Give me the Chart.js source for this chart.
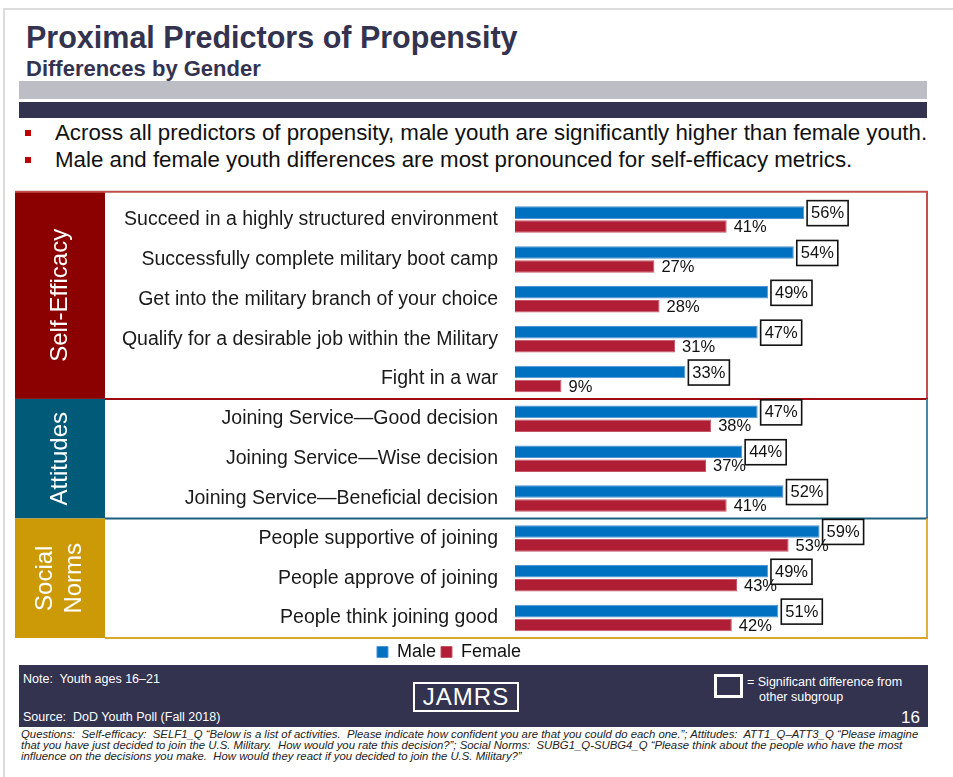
<!DOCTYPE html>
<html>
<head>
<meta charset="utf-8">
<script src="https://cdn.jsdelivr.net/npm/chart.js@4.4.1/dist/chart.umd.min.js"></script>
<style>
  html, body { margin: 0; padding: 0; background: #fff; width: 953px; height: 777px; overflow: hidden;
    font-family: "Liberation Sans", Arial, sans-serif; }
  .abs { position: absolute; white-space: nowrap; line-height: 1; }
  #frame { position: absolute; left: 3px; top: 8px; width: 980px; height: 800px;
    border-top: 2px solid #DCDCDC; border-left: 2px solid #DCDCDC; }
  #title { left: 26px; top: 22px; font-size: 30.5px; font-weight: bold; color: #333350; }
  #subtitle { left: 26px; top: 58px; font-size: 22px; font-weight: bold; color: #333350; }
  #band1 { position: absolute; left: 19px; top: 81px; width: 908px; height: 18px; background: #BDBDC6; }
  #band2 { position: absolute; left: 19px; top: 102px; width: 908px; height: 16px; background: #333350; }
  .bullet { position: absolute; left: 25px; width: 6px; height: 6px; background: #C00000; }
  .btext { left: 55px; font-size: 22.3px; color: #111; }
  #chartWrap { position: absolute; left: -30px; top: 171px; width: 960px; height: 500px; }
  #footer { position: absolute; left: 19px; top: 665px; width: 909px; height: 62px; background: #333350; }
  .ftext { color: #fff; font-size: 12.5px; }
  #jamrs { position: absolute; left: 413px; top: 682px; width: 102px; height: 26px;
    border: 2px solid #fff; color: #fff; font-size: 24px; letter-spacing: 1px;
    display: flex; align-items: center; justify-content: center; line-height: 1; }
  #sigBox { position: absolute; left: 714px; top: 674px; width: 23px; height: 18px; border: 3px solid #fff; }
  .q { left: 21px; font-size: 11.35px; font-style: italic; color: #222; }
</style>
</head>
<body>
<div id="frame"></div>
<div class="abs" id="title">Proximal Predictors of Propensity</div>
<div class="abs" id="subtitle">Differences by Gender</div>
<div id="band1"></div>
<div id="band2"></div>

<div class="bullet" style="top:130px"></div>
<div class="abs btext" style="top:122px">Across all predictors of propensity, male youth are significantly higher than female youth.</div>
<div class="bullet" style="top:157px"></div>
<div class="abs btext" style="top:149px">Male and female youth differences are most pronounced for self-efficacy metrics.</div>

<div id="chartWrap"><canvas id="chart" width="960" height="500"></canvas></div>

<div id="footer"></div>
<div class="abs ftext" style="left:23px; top:673px">Note:&nbsp; Youth ages 16–21</div>
<div class="abs ftext" style="left:23px; top:711px">Source:&nbsp; DoD Youth Poll (Fall 2018)</div>
<div id="jamrs">JAMRS</div>
<div id="sigBox"></div>
<div class="abs ftext" style="left:747px; top:676px">= Significant difference from</div>
<div class="abs ftext" style="left:759px; top:691px">other subgroup</div>
<div class="abs" style="left:901px; top:709px; font-size:17px; color:#fff;">16</div>

<div class="abs q" style="top:729px">Questions:&nbsp; Self-efficacy:&nbsp; SELF1_Q “Below is a list of activities.&nbsp; Please indicate how confident you are that you could do each one.”; Attitudes:&nbsp; ATT1_Q–ATT3_Q “Please imagine</div>
<div class="abs q" style="top:740px">that you have just decided to join the U.S. Military.&nbsp; How would you rate this decision?”; Social Norms:&nbsp; SUBG1_Q-SUBG4_Q “Please think about the people who have the most</div>
<div class="abs q" style="top:751px">influence on the decisions you make.&nbsp; How would they react if you decided to join the U.S. Military?”</div>

<script>
// Survey items (rows, top to bottom)
const categories = [
  'Succeed in a highly structured environment',
  'Successfully complete military boot camp',
  'Get into the military branch of your choice',
  'Qualify for a desirable job within the Military',
  'Fight in a war',
  'Joining Service\u2014Good decision',
  'Joining Service\u2014Wise decision',
  'Joining Service\u2014Beneficial decision',
  'People supportive of joining',
  'People approve of joining',
  'People think joining good'
];
const seriesNames = ['Male', 'Female'];
const maleValues   = [56, 54, 49, 47, 33, 47, 44, 52, 59, 49, 51];
const femaleValues = [41, 27, 28, 31,  9, 38, 37, 41, 53, 43, 42];
// Predictor groups and how many rows each covers
const groupNames = [['Self-Efficacy'], ['Attitudes'], ['Social', 'Norms']];
const groupSizes = [5, 3, 3];

const FONT = '"Liberation Sans", Arial, sans-serif';
const blockColors = ['#8B0000', '#005A78', '#CC9A06'];
const edgeColors  = ['#C0504D', '#4A86A6', '#DDB040'];
const ruleColors  = ['#A00A12', '#1D5E7C', '#D9A828'];
const BLOCK_LEFT = 45, BLOCK_WIDTH = 90;

// Coloured group blocks on the left plus the framed sections
const sectionPlugin = {
  id: 'sections',
  beforeDraw(chart) {
    const ctx = chart.ctx;
    const ys = chart.scales.y;
    const n = categories.length;
    const step = (ys.getPixelForValue(n - 1) - ys.getPixelForValue(0)) / (n - 1);
    const bound = i => ys.getPixelForValue(0) - step / 2 + i * step;
    const right = chart.chartArea.right;
    const panelTop = bound(0) - 8;
    const blockRight = BLOCK_LEFT + BLOCK_WIDTH;
    ctx.save();
    let start = 0;
    groupSizes.forEach((size, g) => {
      const top = g === 0 ? panelTop : bound(start);
      const bottom = bound(start + size);
      ctx.fillStyle = blockColors[g];
      ctx.fillRect(BLOCK_LEFT, top, BLOCK_WIDTH, bottom - top);
      ctx.lineWidth = 2;
      ctx.strokeStyle = edgeColors[g];
      ctx.beginPath();
      ctx.moveTo(right - 1, top);
      ctx.lineTo(right - 1, bottom);
      ctx.stroke();
      ctx.strokeStyle = ruleColors[g];
      ctx.beginPath();
      ctx.moveTo(blockRight, bottom);
      ctx.lineTo(right, bottom);
      ctx.stroke();
      // rotated group title
      const lines = groupNames[g];
      ctx.save();
      ctx.translate(BLOCK_LEFT + BLOCK_WIDTH / 2, (top + bottom) / 2);
      ctx.rotate(-Math.PI / 2);
      ctx.fillStyle = '#fff';
      ctx.font = '24px ' + FONT;
      ctx.textAlign = 'center';
      ctx.textBaseline = 'middle';
      lines.forEach((t, k) => ctx.fillText(t, 0, (k - (lines.length - 1) / 2) * 29));
      ctx.restore();
      start += size;
    });
    ctx.lineWidth = 2;
    ctx.strokeStyle = edgeColors[0];
    ctx.beginPath();
    ctx.moveTo(BLOCK_LEFT, panelTop);
    ctx.lineTo(right, panelTop);
    ctx.stroke();
    ctx.restore();
  }
};

// Percent labels: boxed for male (significant difference), plain for female
const valueLabels = {
  id: 'valueLabels',
  afterDatasetsDraw(chart) {
    const ctx = chart.ctx;
    ctx.save();
    ctx.font = '16.5px ' + FONT;
    ctx.textBaseline = 'middle';
    const male = chart.getDatasetMeta(0).data;
    male.forEach((el, i) => {
      const t = maleValues[i] + '%';
      const w = ctx.measureText(t).width + 8;
      const x0 = el.x + 3, y0 = el.y - 12;
      ctx.fillStyle = '#fff';
      ctx.fillRect(x0, y0, w, 25);
      ctx.strokeStyle = '#111';
      ctx.lineWidth = 1.6;
      ctx.strokeRect(x0, y0, w, 25);
      ctx.fillStyle = '#111';
      ctx.textAlign = 'center';
      ctx.fillText(t, x0 + w / 2, el.y + 1);
    });
    const female = chart.getDatasetMeta(1).data;
    female.forEach((el, i) => {
      ctx.fillStyle = '#111';
      ctx.textAlign = 'left';
      ctx.fillText(femaleValues[i] + '%', el.x + 7, el.y + 1);
    });
    ctx.restore();
  }
};

new Chart(document.getElementById('chart'), {
  type: 'bar',
  data: {
    labels: categories,
    datasets: [
      { label: seriesNames[0], data: maleValues, backgroundColor: '#0070C0',
        borderColor: '#4F93D2', borderWidth: 1, categoryPercentage: 0.7, barPercentage: 0.9 },
      { label: seriesNames[1], data: femaleValues, backgroundColor: '#AF1E35',
        borderColor: '#C65566', borderWidth: 1, categoryPercentage: 0.7, barPercentage: 0.9 }
    ]
  },
  options: {
    indexAxis: 'y',
    responsive: false,
    animation: false,
    devicePixelRatio: 1,
    layout: { padding: { top: 0, left: 0, right: 2, bottom: 0 } },
    scales: {
      x: { min: 0, max: 80, display: false },
      y: {
        grid: { display: false, drawTicks: false },
        border: { display: false },
        ticks: { autoSkip: false, padding: 17, color: '#1a1a1a', font: { family: FONT, size: 19.5 } },
        afterFit(scale) { scale.width = 545; }
      }
    },
    plugins: {
      legend: {
        position: 'bottom',
        labels: { boxWidth: 11, boxHeight: 11, padding: 5, color: '#111', font: { family: FONT, size: 18 } }
      },
      tooltip: { enabled: false }
    }
  },
  plugins: [sectionPlugin, valueLabels]
});
</script>
</body>
</html>
